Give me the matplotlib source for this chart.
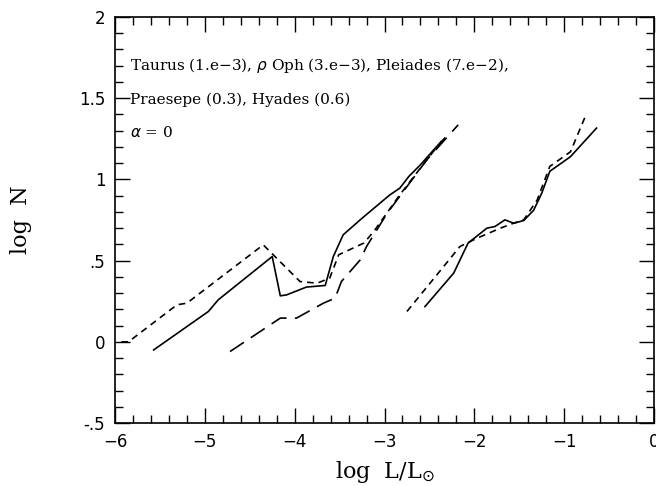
import matplotlib
matplotlib.use('Agg')
import matplotlib.pyplot as plt
from matplotlib.ticker import MultipleLocator, FixedFormatter, FixedLocator

# left group
taurus_x = [-5.93, -5.85, -5.31, -5.20, -4.35, -3.94, -3.75, -3.61, -3.51, -3.23, -3.12, -2.83, -2.60, -2.34]
taurus_y = [0.0, 0.0, 0.228, 0.238, 0.597, 0.371, 0.361, 0.392, 0.536, 0.608, 0.679, 0.905, 1.07, 1.254]

rhooph_x = [-5.57, -4.96, -4.85, -4.25, -4.16, -4.09, -3.87, -3.66, -3.57, -3.46, -3.25, -2.94, -2.83, -2.73, -2.60, -2.44, -2.33]
rhooph_y = [-0.05, 0.187, 0.259, 0.525, 0.283, 0.289, 0.337, 0.347, 0.525, 0.659, 0.761, 0.905, 0.946, 1.018, 1.09, 1.19, 1.254]

pleiades_x = [-4.72, -4.16, -3.98, -3.68, -3.55, -3.48, -3.27, -3.20, -2.97, -2.75, -2.53, -2.18]
pleiades_y = [-0.06, 0.146, 0.146, 0.238, 0.269, 0.371, 0.505, 0.587, 0.792, 0.956, 1.12, 1.336]

# right group
praesepe_x = [-2.55, -2.23, -2.07, -1.86, -1.77, -1.66, -1.56, -1.45, -1.34, -1.25, -1.16, -0.93, -0.64]
praesepe_y = [0.217, 0.423, 0.608, 0.70, 0.71, 0.751, 0.73, 0.747, 0.81, 0.915, 1.05, 1.14, 1.316]

hyades_x = [-2.75, -2.16, -1.97, -1.71, -1.56, -1.45, -1.30, -1.16, -0.93, -0.75]
hyades_y = [0.187, 0.587, 0.638, 0.70, 0.731, 0.751, 0.874, 1.08, 1.17, 1.408]

ytick_vals = [-0.5, 0, 0.5, 1, 1.5, 2]
ytick_labels = ['-.5', '0', '.5', '1', '1.5', '2']
xtick_vals = [-6, -5, -4, -3, -2, -1, 0]
xtick_labels = ['\u22126', '\u22125', '\u22124', '\u22123', '\u22122', '\u22121', '0']

fig = plt.figure(figsize=(6.56, 4.86), dpi=100)
ax = fig.add_axes([0.1753, 0.1296, 0.8217, 0.8354])

lw = 1.2
ax.plot(taurus_x, taurus_y, color='black', lw=lw, dashes=(4, 3))
ax.plot(rhooph_x, rhooph_y, color='black', lw=lw)
ax.plot(pleiades_x, pleiades_y, color='black', lw=lw, dashes=(10, 5))
ax.plot(praesepe_x, praesepe_y, color='black', lw=lw)
ax.plot(hyades_x, hyades_y, color='black', lw=lw, dashes=(4, 3))

ax.set_xlim(-6, 0)
ax.set_ylim(-0.5, 2)

ax.xaxis.set_major_locator(FixedLocator(xtick_vals))
ax.xaxis.set_major_formatter(FixedFormatter(xtick_labels))
ax.xaxis.set_minor_locator(MultipleLocator(0.2))
ax.yaxis.set_major_locator(FixedLocator(ytick_vals))
ax.yaxis.set_major_formatter(FixedFormatter(ytick_labels))
ax.yaxis.set_minor_locator(MultipleLocator(0.1))

ax.tick_params(which='both', direction='in', top=True, right=True, width=1.0)
ax.tick_params(which='major', length=11, labelsize=12, pad=7)
ax.tick_params(which='minor', length=6)
for lab in ax.get_xticklabels() + ax.get_yticklabels():
    lab.set_family('DejaVu Sans')
for s in ax.spines.values():
    s.set_linewidth(1.2)

tfont = dict(family='DejaVu Serif', fontsize=11, color='black')
ax.text(-5.83, 1.70, 'Taurus (1.e\u22123), $\\rho$ Oph (3.e\u22123), Pleiades (7.e\u22122),', va='center', **tfont)
ax.text(-5.83, 1.49, 'Praesepe (0.3), Hyades (0.6)', va='center', **tfont)
ax.text(-5.83, 1.29, '$\\alpha$ = 0', va='center', **tfont)

ax.set_xlabel('log  L/L$_{\\odot}$', family='DejaVu Serif', fontsize=16, labelpad=6)
ax.set_ylabel('log  N', family='DejaVu Serif', fontsize=16, labelpad=34)

fig.savefig('out.png', dpi=100)
